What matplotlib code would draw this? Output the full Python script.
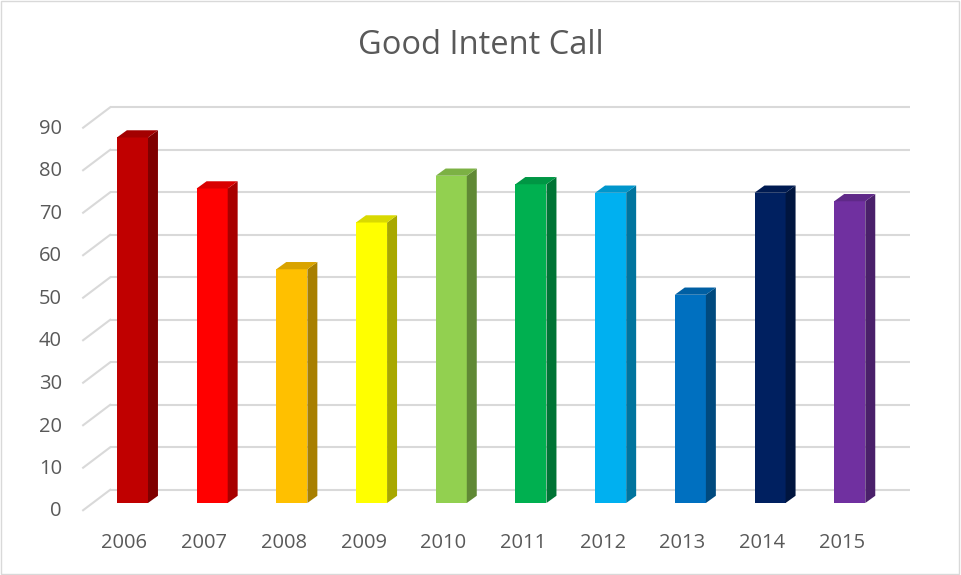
import numpy as np
import matplotlib
matplotlib.use("Agg")
import matplotlib.pyplot as plt
from matplotlib.patches import Polygon, Rectangle
from matplotlib.colors import to_rgb

# Data
years = ["2006", "2007", "2008", "2009", "2010", "2011", "2012", "2013", "2014", "2015"]
calls = [86, 74, 55, 66, 77, 75, 73, 49, 73, 71]
colors = ["#C00000", "#FF0000", "#FFC000", "#FFFF00", "#92D050",
          "#00B050", "#00B0F0", "#0070C0", "#002060", "#7030A0"]
y_ticks = [0, 10, 20, 30, 40, 50, 60, 70, 80, 90]

plt.rcParams['font.family'] = ['Open Sans', 'DejaVu Sans']
text_col = "#595959"
grid_col = "#D9D9D9"


def shade(c, f):
    r, g, b = to_rgb(c)
    return (r * f, g * f, b * f)


fig = plt.figure(figsize=(9.61, 5.75), dpi=100)
fig.patches.append(Rectangle((0.001, 0.002), 0.997, 0.996, transform=fig.transFigure,
                             fill=False, edgecolor=grid_col, lw=1.0))

ax = fig.add_axes([92.6 / 961, 72 / 575, 797 / 961, 382.5 / 575])
ax.set_xlim(-0.5, 9.5)
ax.set_ylim(0, 90)
ax.axis("off")

# 3D-ish depth offsets (data units)
front_dx, front_dy = -0.119, -1.7
back_dx, back_dy = 0.22, 3.1
bar_w = 0.39
dx, dy = 0.125, 1.7

# back wall gridlines and side diagonals
for v in y_ticks:
    ax.plot([-0.5 + back_dx, 9.5 + back_dx + 0.035], [v + back_dy, v + back_dy],
            color=grid_col, lw=1.5, zorder=1, clip_on=False, solid_capstyle="butt")
    ax.plot([-0.5 + front_dx, -0.5 + back_dx], [v + front_dy, v + back_dy],
            color=grid_col, lw=1.5, zorder=1, clip_on=False)
    ax.text(-0.884, v + front_dy - 0.3, str(v), ha="right", va="center",
            fontsize=14.5, color=text_col)

# bars
x = np.arange(len(years))
ax.bar(x, calls, width=bar_w, color=colors, zorder=3)
for xi, v, c in zip(x, calls, colors):
    r = xi + bar_w / 2
    l = xi - bar_w / 2
    side = Polygon([(r, 0), (r + dx, dy), (r + dx, v + dy), (r, v)],
                   closed=True, facecolor=shade(c, 0.66), edgecolor="none", zorder=3)
    top = Polygon([(l, v), (r, v), (r + dx, v + dy), (l + dx, v + dy)],
                  closed=True, facecolor=shade(c, 0.85), edgecolor="none", zorder=3)
    ax.add_patch(side)
    ax.add_patch(top)
    ax.text(xi - 0.1, -9.4, years[xi], ha="center", va="center",
            fontsize=14.5, color=text_col, clip_on=False)

fig.text(0.5, 1 - 46 / 575, "Good Intent Call", ha="center", va="center",
         fontsize=23.5, color=text_col)

fig.savefig("out.png", dpi=100)
